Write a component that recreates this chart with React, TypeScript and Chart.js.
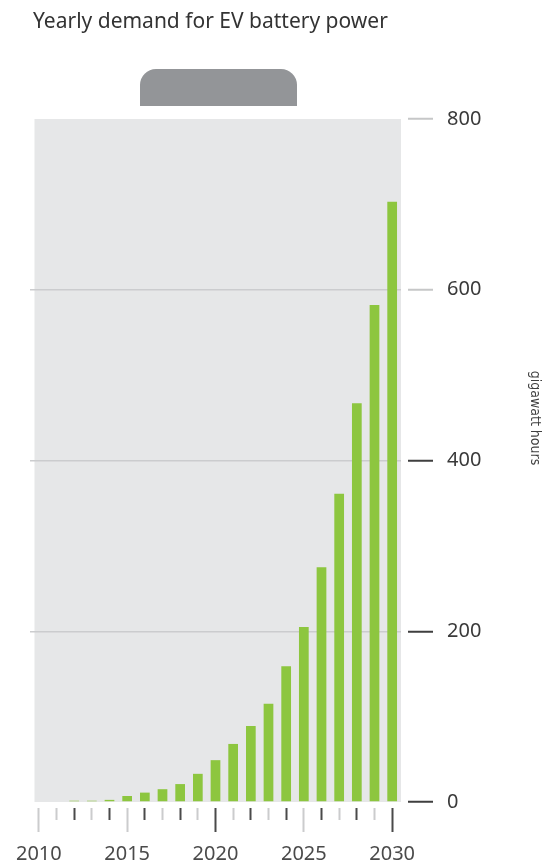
import React, { useEffect, useRef } from 'react';
import { Chart, registerables } from 'chart.js';

Chart.register(...registerables);

const years = ['2010', '2011', '2012', '2013', '2014', '2015', '2016', '2017', '2018', '2019', '2020', '2021', '2022', '2023', '2024', '2025', '2026', '2027', '2028', '2029', '2030'];
const demandGWh = [0, 0, 1.5, 1.5, 2.5, 7, 11, 15, 21, 33, 49, 68, 89, 115, 159, 205, 275, 361, 467, 582, 703];
const labelledYears = ['2010', '2015', '2020', '2025', '2030'];
const yMin = 0;
const yMax = 800;
const yStep = 200;
const titleText = 'Yearly demand for EV battery power';
const yAxisTitle = 'gigawatt hours';

const FONT = '"Noto Sans", "Liberation Sans", Arial, sans-serif';
const NARROW = '"Liberation Sans Narrow", "DejaVu Sans Condensed", "Noto Sans", sans-serif';

const decorPlugin = {
  id: 'decor',
  beforeDraw(chart: any) {
    const { ctx, chartArea } = chart;
    ctx.save();
    // plot background
    ctx.fillStyle = '#e6e7e8';
    const x0 = chartArea.left + 4.5;
    ctx.fillRect(x0, chartArea.top, chartArea.right - x0, chartArea.bottom - chartArea.top);
    // battery terminal cap
    ctx.fillStyle = '#939598';
    ctx.beginPath();
    (ctx as any).roundRect(140, 69, 157, 37, [16, 16, 0, 0]);
    ctx.fill();
    // title
    ctx.fillStyle = '#333333';
    ctx.font = `21px ${FONT}`;
    ctx.textAlign = 'left';
    ctx.textBaseline = 'alphabetic';
    ctx.fillText(titleText, 33, 28);
    ctx.restore();
  },
  afterDraw(chart: any) {
    const { ctx } = chart;
    ctx.save();
    ctx.translate(535, 418);
    ctx.rotate(Math.PI / 2);
    ctx.fillStyle = '#3f3f3f';
    ctx.font = `14px ${NARROW}`;
    ctx.textAlign = 'center';
    ctx.textBaseline = 'middle';
    ctx.fillText(yAxisTitle, 0, 0);
    ctx.restore();
  },
};

export default function App() {
  const ref = useRef<HTMLCanvasElement | null>(null);

  useEffect(() => {
    document.body.style.margin = '0';
    const canvas = ref.current;
    if (!canvas) return;
    const chart = new Chart(canvas, {
      type: 'bar',
      data: {
        labels: years,
        datasets: [
          {
            label: 'Yearly demand',
            data: demandGWh,
            backgroundColor: '#8dc63f',
            borderWidth: 0,
            barPercentage: 0.55,
            categoryPercentage: 1,
          },
        ],
      },
      options: {
        responsive: false,
        maintainAspectRatio: false,
        animation: false,
        layout: { padding: { top: 119, left: 30, right: 0, bottom: 0 } },
        plugins: {
          legend: { display: false },
          tooltip: { enabled: false },
          title: { display: false },
        },
        scales: {
          x: {
            type: 'category',
            offset: true,
            border: { display: false },
            grid: {
              offset: false,
              drawOnChartArea: false,
              drawTicks: true,
              tickLength: 30,
              tickWidth: 2,
              tickColor: (c: any) => {
                const y = Number(years[c.index]);
                return y % 2 === 0 && y !== 2010 ? '#4a4a4a' : '#cbcccd';
              },
              tickBorderDash: (c: any) => {
                const y = Number(years[c.index]);
                return y % 5 === 0 ? [0, 6, 24, 200] : [0, 6, 12, 200];
              },
            },
            ticks: {
              autoSkip: false,
              maxRotation: 0,
              minRotation: 0,
              padding: 10,
              color: '#4a4a4a',
              font: { family: FONT, size: 20 },
              callback: (_v: any, i: number) => (labelledYears.includes(years[i]) ? years[i] : ''),
            },
            afterFit: (s: any) => {
              s.height = 65;
            },
          },
          y: {
            position: 'right',
            min: yMin,
            max: yMax,
            border: { display: false },
            grid: {
              color: (c: any) => {
                const v = c.tick ? c.tick.value : -1;
                return v > yMin && v < yMax ? '#cbccce' : 'rgba(0,0,0,0)';
              },
              lineWidth: 1.5,
              tickLength: 32,
              tickWidth: 2,
              tickColor: (c: any) => {
                const v = c.tick ? c.tick.value : 0;
                return v >= 600 ? '#c6c7c8' : '#3f3f3f';
              },
              tickBorderDash: [0, 7, 25, 200],
            },
            ticks: {
              stepSize: yStep,
              padding: 14,
              color: '#3a3a3a',
              font: { family: FONT, size: 20 },
            },
            afterFit: (s: any) => {
              s.width = 151;
            },
          },
        },
      },
      plugins: [decorPlugin],
    } as any);
    return () => chart.destroy();
  }, []);

  return (
    <div style={{ width: 552, height: 867 }}>
      <canvas ref={ref} width={552} height={867} style={{ display: 'block' }} />
    </div>
  );
}
